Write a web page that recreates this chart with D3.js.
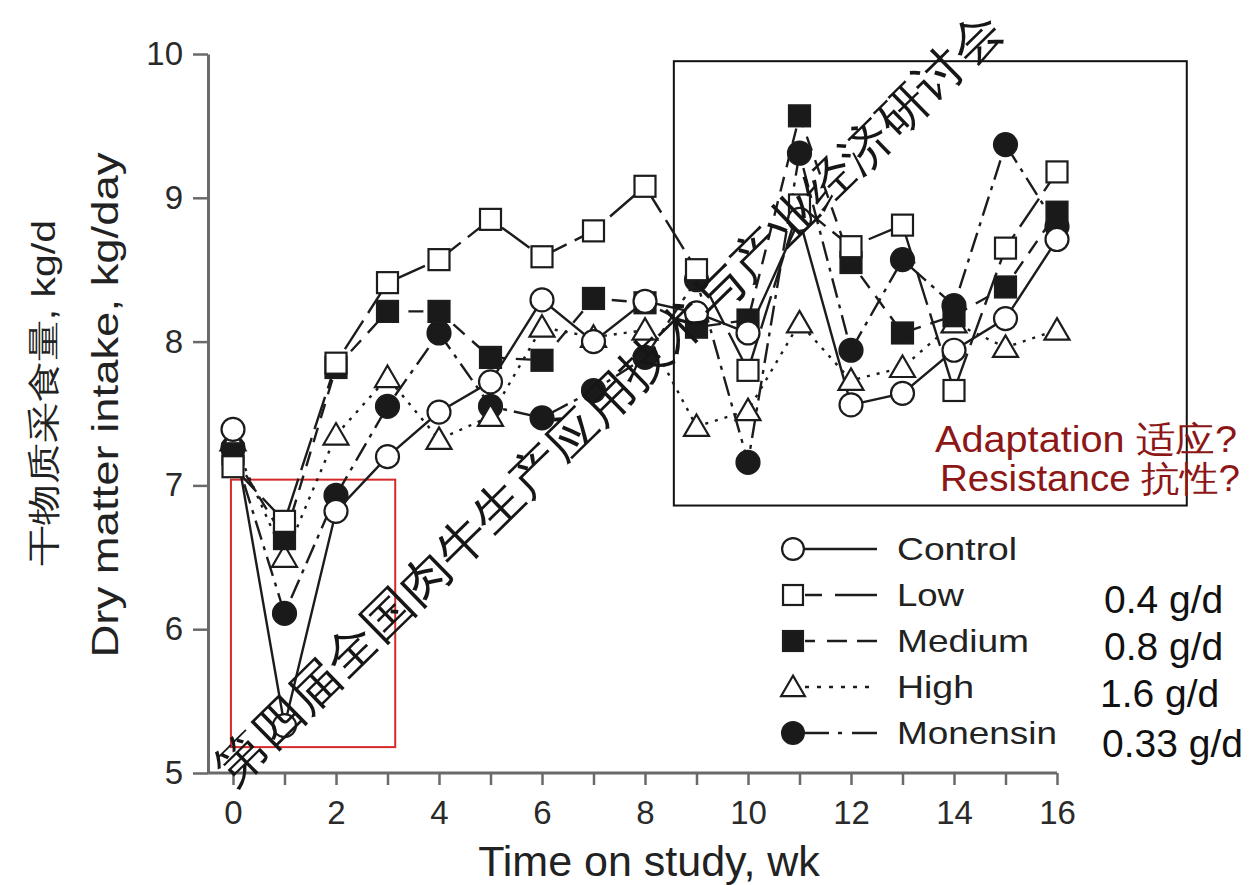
<!DOCTYPE html>
<html>
<head>
<meta charset="utf-8">
<script src="https://cdn.jsdelivr.net/npm/d3@7"></script>
<style>
  html, body { margin: 0; padding: 0; background: #fff; }
  svg { display: block; }
  text { font-family: "Liberation Sans", Arial, sans-serif; }
</style>
</head>
<body>
<svg id="chart" width="1251" height="885"></svg>
<script>
// Weekly dry matter intake (kg/day) by treatment group
const weeks = [0, 1, 2, 3, 4, 5, 6, 7, 8, 9, 10, 11, 12, 13, 14, 15, 16];
const control  = [7.39, 5.33, 6.82, 7.20, 7.51, 7.72, 8.29, 8.00, 8.28, 8.20, 8.06, 8.85, 7.56, 7.64, 7.94, 8.16, 8.71];
const low      = [7.13, 6.75, 7.85, 8.41, 8.57, 8.85, 8.59, 8.77, 9.08, 8.50, 7.80, 8.95, 8.66, 8.81, 7.66, 8.65, 9.18];
const medium   = [7.22, 6.63, 7.82, 8.21, 8.21, 7.89, 7.87, 8.30, 8.27, 8.10, 8.15, 9.57, 8.55, 8.06, 8.18, 8.38, 8.90];
const high     = [7.31, 6.50, 7.35, 7.75, 7.32, 7.48, 8.10, 8.03, 8.08, 7.41, 7.52, 8.13, 7.73, 7.82, 8.13, 7.96, 8.08];
const monensin = [7.26, 6.11, 6.93, 7.55, 8.06, 7.55, 7.47, 7.66, 7.89, 8.43, 7.16, 9.31, 7.94, 8.57, 8.25, 9.37, 8.80];

const seriesNames = ["Control", "Low", "Medium", "High", "Monensin"];
const seriesValues = [control, low, medium, high, monensin];
const doseLabels = ["", "0.4 g/d", "0.8 g/d", "1.6 g/d", "0.33 g/d"];
const yTicks = [5, 6, 7, 8, 9, 10];
const xLabelTicks = [0, 2, 4, 6, 8, 10, 12, 14, 16];

// Visual encoding per group
const markerShape = ["circle", "square", "square", "triangle", "circle"];
const markerFill  = ["#fff", "#fff", "#1a1a1a", "#fff", "#1a1a1a"];
const lineDash    = ["none", "34,9", "15,10", "3,7", "20,7,4,7"];
const legendDash  = ["none", "17,13,42", "10,12,20,10,22", "4,8", "24,9,4,10,30"];

const svg = d3.select("#chart");
const ink = "#1c1c1c";

const x = d3.scaleLinear().domain([0, 16]).range([233, 1057]);
const y = d3.scaleLinear().domain([5, 10]).range([773, 54]);
const axisX = 208;

// ---- axes ----
const axisColor = "#6a6a6a";
const gY = svg.append("g").attr("transform", `translate(${axisX},0)`)
  .call(d3.axisLeft(y).tickValues(yTicks).tickSize(15).tickSizeOuter(0).tickPadding(10).tickFormat(d3.format("d")));
gY.select(".domain").attr("stroke", axisColor).attr("stroke-width", 3);
gY.selectAll(".tick line").attr("stroke", axisColor).attr("stroke-width", 2.5);
gY.selectAll(".tick text").attr("font-size", 33).attr("fill", "#2a2a2a")
  .attr("font-family", "Liberation Sans, Arial, sans-serif");

const gX = svg.append("g").attr("transform", `translate(0,${y(5)})`)
  .call(d3.axisBottom(x).tickValues(weeks).tickSize(12).tickSizeOuter(0).tickPadding(16)
    .tickFormat(d => xLabelTicks.includes(d) ? d : ""));
gX.select(".domain").remove();
gX.append("line").attr("x1", axisX).attr("x2", x(16)).attr("y1", 0).attr("y2", 0)
  .attr("stroke", axisColor).attr("stroke-width", 3);
gX.selectAll(".tick line").attr("stroke", axisColor).attr("stroke-width", 2.5);
gX.selectAll(".tick text").attr("font-size", 33).attr("fill", "#2a2a2a")
  .attr("font-family", "Liberation Sans, Arial, sans-serif");

// axis titles
svg.append("text").attr("x", 649).attr("y", 876).attr("text-anchor", "middle")
  .attr("font-size", 43).attr("fill", "#222").text("Time on study, wk");

svg.append("text").attr("transform", "translate(118,405) rotate(-90)")
  .attr("text-anchor", "middle").attr("font-size", 36).attr("fill", "#222")
  .attr("textLength", 505).attr("lengthAdjust", "spacingAndGlyphs")
  .text("Dry matter intake, kg/day");

svg.append("text").attr("transform", "translate(55,393) rotate(-90)")
  .attr("text-anchor", "middle").attr("font-size", 33).attr("fill", "#222")
  .attr("font-family", "Noto Sans CJK SC, Liberation Sans, sans-serif")
  .attr("textLength", 346).attr("lengthAdjust", "spacingAndGlyphs")
  .text("干物质采食量, kg/d");

// ---- highlight boxes ----
svg.append("rect").attr("x", x(8.56)).attr("y", y(9.95)).attr("width", x(18.52) - x(8.56)).attr("height", y(6.86) - y(9.95))
  .attr("fill", "none").attr("stroke", "#111").attr("stroke-width", 2);
svg.append("rect").attr("x", x(-0.04)).attr("y", y(7.04)).attr("width", x(3.15) - x(-0.04)).attr("height", y(5.18) - y(7.04))
  .attr("fill", "none").attr("stroke", "#d42a2a").attr("stroke-width", 2);

// ---- series ----
const line = d3.line().x((d, i) => x(weeks[i])).y(d => y(d));

function drawMarker(g, shape, fill, cx, cy, s) {
  const sw = 2.2;
  if (shape === "circle") {
    g.append("circle").attr("cx", cx).attr("cy", cy).attr("r", 11.5 * s)
      .attr("fill", fill).attr("stroke", ink).attr("stroke-width", sw);
  } else if (shape === "square") {
    const h = 10.5 * s;
    g.append("rect").attr("x", cx - h).attr("y", cy - h).attr("width", 2 * h).attr("height", 2 * h)
      .attr("fill", fill).attr("stroke", ink).attr("stroke-width", sw);
  } else {
    const w = 12.5 * s;
    g.append("path")
      .attr("d", `M${cx},${cy - 12 * s}L${cx + w},${cy + 9.5 * s}L${cx - w},${cy + 9.5 * s}Z`)
      .attr("fill", fill).attr("stroke", ink).attr("stroke-width", sw).attr("stroke-linejoin", "miter");
  }
}

const gLines = svg.append("g");
seriesValues.forEach((vals, k) => {
  gLines.append("path").datum(vals).attr("d", line)
    .attr("fill", "none").attr("stroke", ink).attr("stroke-width", 2.4)
    .attr("stroke-dasharray", lineDash[k]);
});

const gMarks = svg.append("g");
const drawOrder = [4, 3, 2, 1, 0];
drawOrder.forEach(k => {
  seriesValues[k].forEach((v, i) => {
    drawMarker(gMarks, markerShape[k], markerFill[k], x(weeks[i]), y(v), 1);
  });
});

// ---- legend ----
const legendY = [549, 595, 641, 687, 733];
const legendTextLen = [120, 67, 132, 77, 160];
const gLeg = svg.append("g");
seriesNames.forEach((name, k) => {
  const ly = legendY[k];
  gLeg.append("line").attr("x1", 805).attr("x2", 877).attr("y1", ly).attr("y2", ly)
    .attr("stroke", ink).attr("stroke-width", 2.4).attr("stroke-dasharray", legendDash[k]);
  drawMarker(gLeg, markerShape[k], markerFill[k], 793, ly, 0.95);
  gLeg.append("text").attr("x", 897).attr("y", ly + 11).attr("font-size", 32).attr("fill", "#222")
    .attr("textLength", legendTextLen[k]).attr("lengthAdjust", "spacingAndGlyphs").text(name);
});

const doseX = [0, 1104, 1104, 1100, 1102];
const doseBase = [0, 613, 660, 707, 757];
doseLabels.forEach((t, k) => {
  if (!t) return;
  svg.append("text").attr("x", doseX[k]).attr("y", doseBase[k]).attr("font-size", 39)
    .attr("fill", "#111").text(t);
});

// ---- annotation ----
const noteColor = "#8d1616";
svg.append("text").attr("x", 1237).attr("y", 452).attr("text-anchor", "end")
  .attr("font-size", 36).attr("fill", noteColor)
  .attr("font-family", "Liberation Sans, Noto Sans CJK SC, sans-serif")
  .attr("textLength", 302).attr("lengthAdjust", "spacingAndGlyphs")
  .text("Adaptation 适应?");
svg.append("text").attr("x", 1240).attr("y", 491).attr("text-anchor", "end")
  .attr("font-size", 36).attr("fill", noteColor)
  .attr("font-family", "Liberation Sans, Noto Sans CJK SC, sans-serif")
  .attr("textLength", 300).attr("lengthAdjust", "spacingAndGlyphs")
  .text("Resistance 抗性?");

// ---- diagonal banner ----
svg.append("text").attr("transform", "translate(620,410) rotate(-44.4)")
  .attr("text-anchor", "middle").attr("font-size", 48).attr("fill", "#161616")
  .attr("font-family", "Noto Sans CJK SC, sans-serif").attr("font-weight", 300)
  .attr("textLength", 1080).attr("lengthAdjust", "spacingAndGlyphs")
  .text("第四届全国肉牛生产应用技术与产业经济研讨会");
</script>
</body>
</html>
